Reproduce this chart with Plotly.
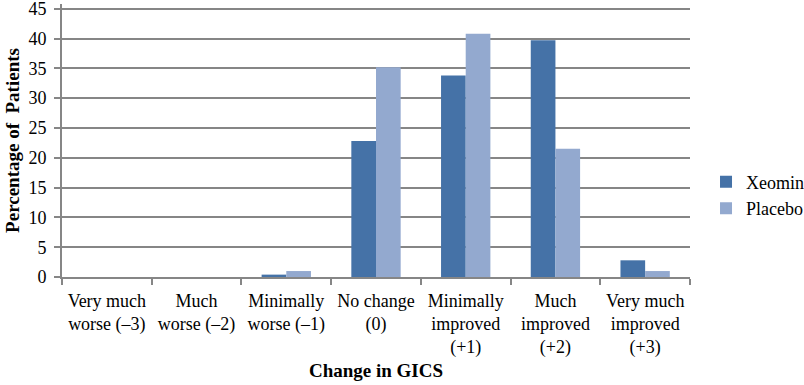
import plotly.graph_objects as go

categories = [
    "Very much<br>worse (\u20133)",
    "Much<br>worse (\u20132)",
    "Minimally<br>worse (\u20131)",
    "No change<br>(0)",
    "Minimally<br>improved<br>(+1)",
    "Much<br>improved<br>(+2)",
    "Very much<br>improved<br>(+3)",
]
xeomin = [0, 0, 0.4, 22.8, 33.8, 39.7, 2.8]
placebo = [0, 0, 1.0, 35.2, 40.8, 21.5, 1.0]
y_ticks = [0, 5, 10, 15, 20, 25, 30, 35, 40, 45]

font_family = "Liberation Serif"
grid_col = "#868686"

fig = go.Figure()
fig.add_trace(go.Bar(name="Xeomin", x=categories, y=xeomin, marker_color="#4572A7", marker_line_width=0))
fig.add_trace(go.Bar(name="Placebo", x=categories, y=placebo, marker_color="#93A9CF", marker_line_width=0))

fig.update_layout(
    width=804, height=385,
    margin=dict(l=62, r=114, t=4, b=108, autoexpand=False),
    paper_bgcolor="white", plot_bgcolor="white",
    barmode="group", bargap=0.45, bargroupgap=0,
    font=dict(family=font_family, size=18, color="#000000"),
    showlegend=True,
    legend=dict(x=1.0255, y=0.30, xanchor="left", yanchor="middle",
                font=dict(family=font_family, size=18), itemwidth=30,
                tracegroupgap=21, bgcolor="rgba(0,0,0,0)"),
    xaxis=dict(
        type="category", automargin=False,
        showgrid=False,
        showline=True, linecolor=grid_col, linewidth=2,
        ticks="outside", tickson="boundaries", ticklen=6, tickcolor=grid_col, tickwidth=2,
        tickfont=dict(family=font_family, size=18), ticklabelstandoff=6,
        title=dict(text="<b>Change in GICS</b>", font=dict(family=font_family, size=19), standoff=6),
        tickangle=0,
    ),
    yaxis=dict(
        automargin=False,
        range=[0, 45.8], tickvals=y_ticks,
        showgrid=True, gridcolor=grid_col, gridwidth=2,
        showline=True, linecolor=grid_col, linewidth=2,
        ticks="outside", ticklen=6, tickcolor=grid_col, tickwidth=2,
        zeroline=False, ticklabeloverflow="allow",
        tickfont=dict(family=font_family, size=18), ticklabelstandoff=4,
        title=dict(text="<b>Percentage of  Patients</b>", font=dict(family=font_family, size=19), standoff=4),
    ),
)

fig.write_html("out.html", config={"displayModeBar": False},
               post_script="document.body.style.margin='0';document.body.style.padding='0';")
